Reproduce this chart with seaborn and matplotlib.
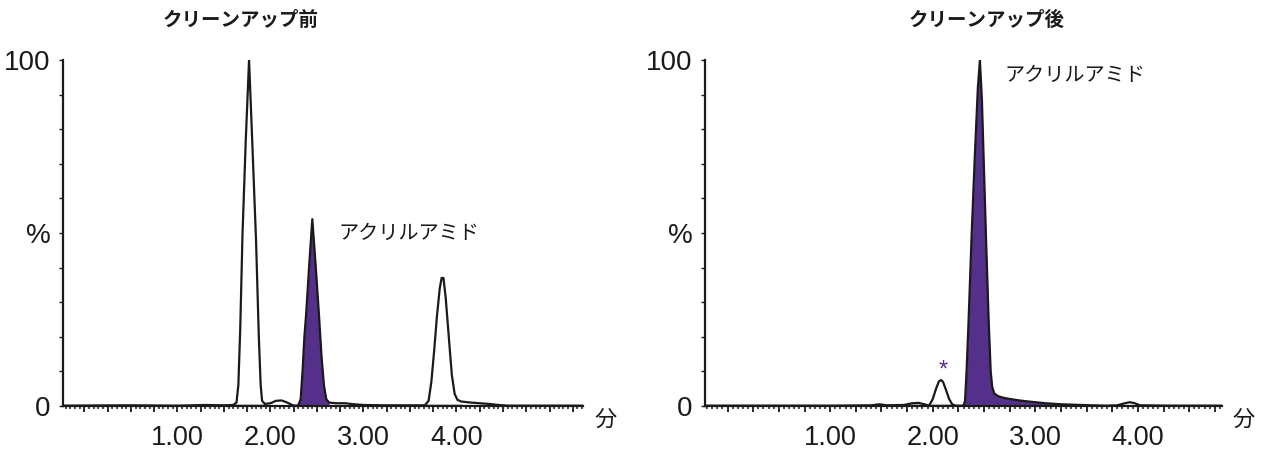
import numpy as np
import pandas as pd
import seaborn as sns
import matplotlib.pyplot as plt
from matplotlib.ticker import MultipleLocator, FixedLocator, FuncFormatter

# クリーンアップ前 (before cleanup) - time (min) / intensity (%)
before_t = [-0.23, 0.5, 1.0, 1.3, 1.5, 1.60, 1.635, 1.655, 1.675, 1.70, 1.735, 1.77,
            1.805, 1.845, 1.875, 1.895, 1.91, 1.94, 2.00, 2.06, 2.12, 2.18, 2.24, 2.28,
            2.30, 2.325, 2.345, 2.365, 2.385, 2.415, 2.45, 2.485, 2.52, 2.55, 2.575, 2.60,
            2.63, 2.70, 2.80, 2.90, 3.00, 3.20, 3.50, 3.66, 3.70, 3.73, 3.76, 3.79, 3.82,
            3.84, 3.86, 3.885, 3.92, 3.95, 3.98, 4.01, 4.05, 4.15, 4.25, 4.35, 4.45, 4.55,
            5.0, 5.36]
before_y = [0.1, 0.2, 0.1, 0.3, 0.2, 0.3, 1.0, 6, 22, 50, 77, 100,
            76, 48, 20, 6, 1.5, 0.6, 0.8, 1.5, 1.6, 1.0, 0.2, 0.1,
            0.3, 2, 10, 20, 27, 40, 54, 41, 27, 14, 6, 2,
            1.0, 0.8, 0.8, 0.5, 0.3, 0.2, 0.2, 0.2, 1.5, 7, 16, 26, 34,
            37, 37, 31, 19, 9, 3.5, 1.8, 1.3, 1.0, 0.8, 0.6, 0.3, 0.1,
            0.1, 0.1]

# クリーンアップ後 (after cleanup)
after_t = [-0.22, 0.5, 1.0, 1.40, 1.48, 1.55, 1.72, 1.80, 1.86, 1.92, 1.96,
           1.97, 2.00, 2.03, 2.06, 2.08, 2.10, 2.13, 2.16, 2.19, 2.22, 2.30,
           2.315, 2.33, 2.35, 2.38, 2.41, 2.44, 2.46, 2.48, 2.50, 2.52, 2.545, 2.565,
           2.58, 2.60, 2.64, 2.70, 2.80, 2.90, 3.00, 3.10, 3.25, 3.40, 3.55, 3.70,
           3.80, 3.86, 3.92, 3.97, 4.02, 4.30, 4.82]
after_y = [0.1, 0.1, 0.1, 0.2, 0.5, 0.2, 0.3, 0.8, 0.9, 0.5, 0.1,
           0.4, 2, 4.8, 7.1, 7.5, 7.0, 4.6, 2, 0.5, 0.1, 0.1,
           1.5, 10, 25, 50, 72, 92, 100, 88, 68, 48, 25, 10,
           5.5, 3.6, 2.8, 2.3, 1.8, 1.4, 1.1, 0.8, 0.5, 0.35, 0.2, 0.1,
           0.2, 0.7, 1.1, 0.8, 0.2, 0.1, 0.1]

# acrylamide integration windows (min)
before_window = (2.30, 2.63)
after_window = (2.30, 3.70)

# light grey integration baselines of the other peaks (min)
before_baselines = [(1.62, 1.95), (3.68, 4.06)]
after_baselines = [(1.74, 1.95), (1.96, 2.22)]

x_labels = [1, 2, 3, 4]
titles = ["クリーンアップ前", "クリーンアップ後"]
compound = "アクリルアミド"

sns.set_style("ticks")
plt.rcParams['font.family'] = ['Liberation Sans', 'Noto Sans CJK JP', 'DejaVu Sans']

purple = "#54308a"
ink = "#1a1a1a"
fig = plt.figure(figsize=(12.8, 4.49), dpi=100)
ax1 = fig.add_axes([63 / 1280, 1 - 406 / 449, 520 / 1280, 346 / 449])
ax2 = fig.add_axes([705 / 1280, 1 - 406 / 449, 517 / 1280, 346 / 449])

panels = [
    (ax1, before_t, before_y, before_window, before_baselines, (-0.23, 5.36)),
    (ax2, after_t, after_y, after_window, after_baselines, (-0.22, 4.82)),
]

for i, (ax, t, y, win, bases, xlim) in enumerate(panels):
    df = pd.DataFrame({"t": t, "y": y})
    mask = (df["t"] >= win[0]) & (df["t"] <= win[1])
    ax.fill_between(df["t"][mask], 0, df["y"][mask], color=purple, lw=0, zorder=1)
    for a, b in bases:
        ax.plot([a, b], [0.35, 0.35], color="#c8c8c8", lw=1.6, zorder=1)
    sns.lineplot(data=df, x="t", y="y", ax=ax, color=ink, lw=1.6,
                 sort=False, estimator=None, zorder=2)

    ax.set_xlim(*xlim)
    ax.set_ylim(0, 100)
    ax.set_xlabel("")
    ax.set_ylabel("")
    for s in ["top", "right"]:
        ax.spines[s].set_visible(False)
    for s in ["left", "bottom"]:
        ax.spines[s].set_linewidth(1.6)
        ax.spines[s].set_color(ink)

    ax.xaxis.set_major_locator(MultipleLocator(0.25))
    ax.xaxis.set_minor_locator(MultipleLocator(0.05))
    ax.xaxis.set_major_formatter(FuncFormatter(
        lambda v, p: f"{v:.2f}" if any(abs(v - k) < 1e-6 for k in x_labels) else ""))
    ax.yaxis.set_major_locator(FixedLocator([0, 50, 100]))
    ax.yaxis.set_minor_locator(MultipleLocator(10))
    ax.yaxis.set_major_formatter(FuncFormatter(
        lambda v, p: {0: "0", 50: "%", 100: "100"}.get(int(round(v)), "")))
    ax.tick_params(axis="x", which="major", bottom=True, direction="out", length=4.5,
                   width=1.3, labelsize=19.5, pad=9, colors=ink)
    ax.tick_params(axis="x", which="minor", bottom=True, direction="out", length=2.5,
                   width=1.1, colors=ink)
    ax.tick_params(axis="y", which="both", left=True, direction="out", length=3,
                   width=1.0, labelsize=20, pad=6, colors=ink)

    ax.text(1.022 if i == 0 else 1.02, -0.04, "分", transform=ax.transAxes,
            ha="left", va="center", fontsize=16, color=ink)
    ax.text(0.342 if i == 0 else 0.544, 1.115, titles[i], transform=ax.transAxes,
            ha="center", va="center", fontsize=14, fontweight="bold", color=ink)

ax1.text(2.73, 50, compound, ha="left", va="center", fontsize=14.5, color=ink)
ax2.text(2.70, 95.5, compound, ha="left", va="center", fontsize=14.5, color=ink)
ax2.text(2.10, 10.3, "*", ha="center", va="center", fontsize=17, color=purple)

fig.savefig("out.png", dpi=100)
